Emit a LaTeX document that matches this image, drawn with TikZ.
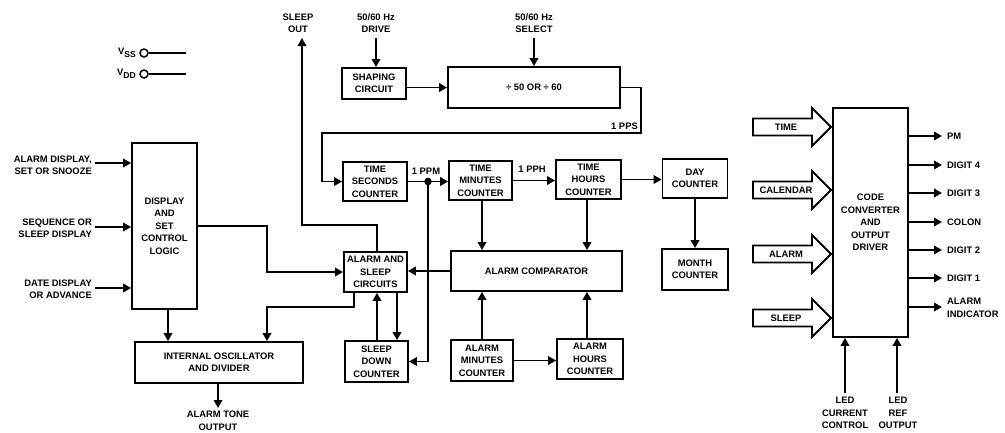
\documentclass[tikz,border=0pt]{standalone}
\usepackage{fontspec}
\setmainfont{Liberation Sans}
\usetikzlibrary{arrows.meta}
\newcommand\dgfont{\fontsize{9.4}{12.4}\selectfont\bfseries}
\newcommand\dgsub[1]{\raisebox{-2.8pt}{\fontsize{8.6}{9}\selectfont #1}}
\begin{document}
\begin{tikzpicture}[x=1pt,y=-1pt,
  lw/.style={line width=1.8pt},
  box/.style={draw,line width=1.8pt,align=center,inner sep=0pt,font=\dgfont},
  txt/.style={align=center,inner sep=0pt,font=\dgfont},
  arr/.style={line width=1.8pt,-{Triangle[length=8pt,width=8.5pt]}},
  ln/.style={line width=1.8pt}]
\useasboundingbox (0,0) rectangle (1005,432);

% ---- power pins
\node[circle,draw,line width=1.5pt,minimum size=8pt,inner sep=0pt] (vss) at (144,53) {};
\node[circle,draw,line width=1.5pt,minimum size=8pt,inner sep=0pt] (vdd) at (144,74) {};
\coordinate (vssE) at (186,53);
\coordinate (vddE) at (186,74);
\draw[ln] (vss.east) -- (vssE);
\draw[ln] (vdd.east) -- (vddE);
\node[txt,anchor=east] (vssl) at (136,53) {V\dgsub{SS}};
\node[txt,anchor=east] (vddl) at (136,74) {V\dgsub{DD}};

% ---- top labels
\node[txt] (sleepout) at (298,23) {SLEEP\\OUT};
\node[txt] (drive) at (376,23) {50/60 Hz\\DRIVE};
\node[txt] (select) at (534,23) {50/60 Hz\\SELECT};

% ---- boxes
\node[box,minimum width=64pt,minimum height=31pt] (shape) at (374,83.5) {SHAPING\\CIRCUIT};
\node[box,minimum width=172pt,minimum height=41pt] (div) at (534,87.5) {÷ 50 OR ÷ 60};
\node[box,minimum width=64pt,minimum height=39pt] (sec) at (375,181.5) {TIME\\SECONDS\\COUNTER};
\node[box,minimum width=63pt,minimum height=39pt] (min) at (480.5,180.5) {TIME\\MINUTES\\COUNTER};
\node[box,minimum width=65pt,minimum height=39pt] (hrs) at (588.5,179.5) {TIME\\HOURS\\COUNTER};
\node[box,minimum width=65pt,minimum height=39pt] (day) at (695,178.5) {DAY\\COUNTER};
\node[box,minimum width=66pt,minimum height=41pt] (month) at (695,269.5) {MONTH\\COUNTER};
\node[box,minimum width=171pt,minimum height=40pt] (comp) at (536.5,271) {ALARM COMPARATOR};
\node[box,minimum width=63pt,minimum height=40pt] (as) at (375.5,272) {ALARM AND\\SLEEP\\CIRCUITS};
\node[box,minimum width=63pt,minimum height=41pt] (sleep) at (376.5,361.5) {SLEEP\\DOWN\\COUNTER};
\node[box,minimum width=62pt,minimum height=41pt] (amin) at (482,360.5) {ALARM\\MINUTES\\COUNTER};
\node[box,minimum width=66pt,minimum height=40pt] (ahrs) at (590,359) {ALARM\\HOURS\\COUNTER};
\node[box,minimum width=65pt,minimum height=166pt] (logic) at (164.5,226) {DISPLAY\\AND\\SET\\CONTROL\\LOGIC};
\node[box,minimum width=168pt,minimum height=41pt] (osc) at (219,362.5) {INTERNAL OSCILLATOR\\AND DIVIDER};
\node[box,minimum width=75pt,minimum height=229pt] (conv) at (870.5,222.5) {CODE\\CONVERTER\\AND\\OUTPUT\\DRIVER};

% ---- top connectors
\coordinate (driveS) at (376,38);
\coordinate (selS) at (534,38);
\draw[arr] (driveS) -- (driveS |- shape.north);
\draw[arr] (selS) -- (div.north);
\draw[arr] (shape.east |- div.west) -- (div.west);
\coordinate (ppsR) at (641,133);
\coordinate (ppsL) at (322,133);
\draw[arr] (div.east) -| (ppsR) -- (ppsL) |- (sec.west);
\node[txt,anchor=east] (pps) at (638,126) {1 PPS};

% ---- counters chain
\coordinate (ppmdot) at (428,181.5);
\draw[arr] (sec.east) -- (sec.east -| min.west);
\fill (ppmdot) circle (3.8pt);
\node[txt] (ppm) at (426,171) {1 PPM};
\draw[arr] (min.east) -- (min.east -| hrs.west);
\node[txt] (pph) at (532,169) {1 PPH};
\draw[arr] (hrs.east) -- (hrs.east -| day.west);
\draw[arr] (day.south) -- (month.north);
\coordinate (mx) at (482,0);
\coordinate (hx) at (587,0);
\draw[arr] (mx |- min.south) -- (mx |- comp.north);
\draw[arr] (hx |- hrs.south) -- (hx |- comp.north);
\draw[arr] (mx |- amin.north) -- (mx |- comp.south);
\draw[arr] (hx |- ahrs.north) -- (hx |- comp.south);
\draw[arr] (amin.east) -- (amin.east -| ahrs.west);
\draw[arr] (comp.west) -- (comp.west -| as.east);
\draw[arr] (ppmdot) |- (sleep.east);

% ---- alarm & sleep connections
\coordinate (upx) at (377,0);
\coordinate (dnx) at (397,0);
\draw[arr] (upx |- sleep.north) -- (upx |- as.south);
\draw[arr] (dnx |- as.south) -- (dnx |- sleep.north);
\coordinate (so1) at (377,225);
\coordinate (so2) at (302,225);
\coordinate (soT) at (302,38);
\draw[arr] (so1 |- as.north) -- (so1) -- (so2) -- (soT);
\coordinate (lg) at (267,0);
\draw[arr] (logic.east) -- (lg |- logic.east) |- (as.west);
\coordinate (ao1) at (354,307);
\coordinate (ao2) at (267,307);
\draw[arr] (ao1 |- as.south) -- (ao1) -- (ao2) -- (ao2 |- osc.north);
\coordinate (lx) at (168,0);
\draw[arr] (lx |- logic.south) -- (lx |- osc.north);
\coordinate (toneN) at (218,408);
\draw[arr] (toneN |- osc.south) -- (toneN);
\node[txt,anchor=north] (tone) at (218,411) {ALARM TONE\\OUTPUT};

% ---- left inputs
\node[txt,anchor=east,align=right] (in1) at (92,165.5) {ALARM DISPLAY,\\SET OR SNOOZE};
\node[txt,anchor=east,align=right] (in2) at (92,228) {SEQUENCE OR\\SLEEP DISPLAY};
\node[txt,anchor=east,align=right] (in3) at (92,289) {DATE DISPLAY\\OR ADVANCE};
\coordinate (i1) at (95,163);
\coordinate (i2) at (95,227);
\coordinate (i3) at (95,288);
\draw[arr] (i1) -- (i1 -| logic.west);
\draw[arr] (i2) -- (i2 -| logic.west);
\draw[arr] (i3) -- (i3 -| logic.west);

% ---- right panel: wide arrows
\foreach \yy/\tt in {127/TIME,190/CALENDAR,254/ALARM,318/SLEEP}{
  \draw[lw,line join=miter] (753,\yy-8.5) -- (812,\yy-8.5) -- (812,\yy-19) -- (831,\yy)
     -- (812,\yy+19) -- (812,\yy+8.5) -- (753,\yy+8.5) -- cycle;
  \node[txt] (big\tt) at (786,\yy) {\tt};
}

% ---- outputs
\foreach \yy/\tt/\nn in {136/PM/pm,165/DIGIT 4/d4,193/DIGIT 3/d3,222/COLON/col,250/DIGIT 2/d2,278/DIGIT 1/d1}{
  \coordinate (o\nn) at (942,\yy);
  \draw[arr] (conv.east |- o\nn) -- (o\nn);
  \node[txt,anchor=west] (l\nn) at (947,\yy) {\tt};
}
\coordinate (oai) at (942,307);
\draw[arr] (conv.east |- oai) -- (oai);
\node[txt,anchor=west,align=left] (lai) at (947,308) {ALARM\\INDICATOR};

% ---- LED inputs
\coordinate (led1) at (845,393);
\coordinate (led2) at (897,393);
\draw[arr] (led1) -- (led1 |- conv.south);
\draw[arr] (led2) -- (led2 |- conv.south);
\node[txt,anchor=north] (led1l) at (845,397) {LED\\CURRENT\\CONTROL};
\node[txt,anchor=north] (led2l) at (898,397) {LED\\REF\\OUTPUT};
\end{tikzpicture}
\end{document}
